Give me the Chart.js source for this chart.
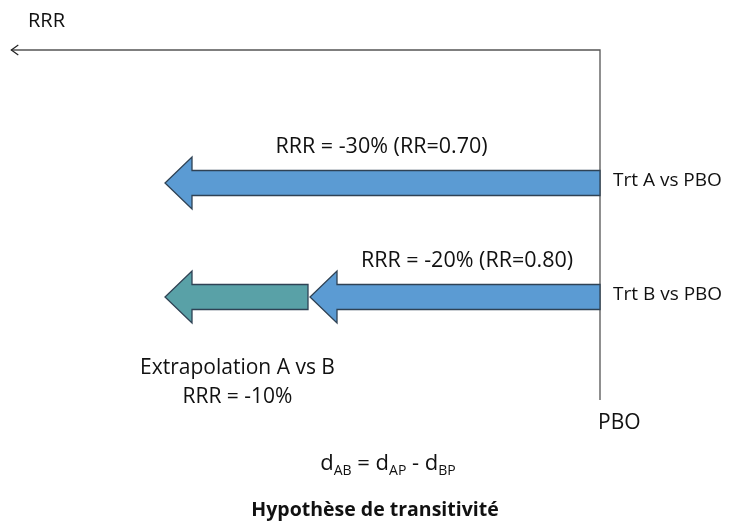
<!DOCTYPE html>
<html><head><meta charset="utf-8">
<script src="https://cdn.jsdelivr.net/npm/chart.js@4/dist/chart.umd.min.js"></script>
<style>html,body{margin:0;padding:0;background:#fff}#wrap{width:736px;height:522px;position:relative}</style>
</head><body><div id="wrap"><canvas id="c" width="736" height="522"></canvas></div>
<script>
// ---- data ----
const categories = ['Trt A vs PBO', 'Trt B vs PBO'];
const rrrVsPbo = [[0, -30], [0, -20]];           // RRR (%) vs placebo: [start, end]
const rrrLabels = ['RRR = -30% (RR=0.70)', 'RRR = -20% (RR=0.80)'];
const extrapolation = [null, [-20, -30]];        // indirect comparison A vs B
const extrapLabels = ['Extrapolation A vs B', 'RRR = -10%'];
const axisLabels = ['RRR', 'PBO'];
const titleText = 'Hypothèse de transitivité';

const FONT = '"Open Sans", Lato, sans-serif';
const BLUE = '#5b9bd3', TEAL = '#59a1a7', EDGE = '#2f4254';

function arrow(ctx, tail, tip, yc, sh, hh, hl, fill) {
  ctx.beginPath();
  ctx.moveTo(tail, yc - sh / 2);
  ctx.lineTo(tip + hl, yc - sh / 2);
  ctx.lineTo(tip + hl, yc - hh / 2);
  ctx.lineTo(tip, yc);
  ctx.lineTo(tip + hl, yc + hh / 2);
  ctx.lineTo(tip + hl, yc + sh / 2);
  ctx.lineTo(tail, yc + sh / 2);
  ctx.closePath();
  ctx.fillStyle = fill; ctx.fill();
  ctx.lineWidth = 1.3; ctx.strokeStyle = EDGE; ctx.stroke();
}

const diagram = {
  id: 'diagram',
  afterDatasetsDraw(chart) {
    const ctx = chart.ctx, xs = chart.scales.x;
    const x0 = xs.getPixelForValue(0);
    const axisY = 50, axisEnd = xs.getPixelForValue(-40.6);
    ctx.save();
    // axes
    ctx.strokeStyle = '#555'; ctx.lineWidth = 1.3;
    ctx.beginPath();
    ctx.moveTo(x0, 400); ctx.lineTo(x0, axisY); ctx.lineTo(axisEnd, axisY);
    ctx.stroke();
    ctx.strokeStyle = '#222'; ctx.lineWidth = 1.2;
    ctx.beginPath();
    ctx.moveTo(axisEnd + 7, axisY - 5); ctx.lineTo(axisEnd, axisY); ctx.lineTo(axisEnd + 7, axisY + 5);
    ctx.stroke();

    const sh = 25, hh = 52, hl = 27;
    const m1 = chart.getDatasetMeta(0), m2 = chart.getDatasetMeta(1);
    ctx.textBaseline = 'middle';
    rrrVsPbo.forEach((d, i) => {
      const el = m1.data[i];
      const tail = xs.getPixelForValue(d[0]), tip = xs.getPixelForValue(d[1]);
      arrow(ctx, tail, tip, el.y, sh, hh, hl, BLUE);
      ctx.fillStyle = '#111';
      ctx.textAlign = 'center';
      ctx.font = '21.5px ' + FONT;
      ctx.fillText(rrrLabels[i], (tail + tip) / 2 + (i === 1 ? 12 : -1), el.y - 36);
      ctx.textAlign = 'left';
      ctx.font = '19px ' + FONT;
      ctx.fillText(categories[i], x0 + 13, el.y - 2);
    });
    extrapolation.forEach((d, i) => {
      if (!d) return;
      const el = m2.data[i];
      const tail = xs.getPixelForValue(d[0]) - 2, tip = xs.getPixelForValue(d[1]);
      arrow(ctx, tail, tip, el.y, sh, hh, hl, TEAL);
      ctx.fillStyle = '#111'; ctx.textAlign = 'center';
      ctx.font = '21px ' + FONT;
      const cx = (tail + tip) / 2 + 1;
      ctx.fillText(extrapLabels[0], cx, el.y + 71);
      ctx.fillText(extrapLabels[1], cx, el.y + 100);
    });
    // axis labels
    ctx.textAlign = 'left';
    ctx.font = '20px ' + FONT;
    ctx.fillText(axisLabels[0], 28, 21);
    ctx.font = '21px ' + FONT;
    ctx.fillText(axisLabels[1], x0 - 2, 423);
    // formula d_AB = d_AP - d_BP
    const parts = [['d', 0], ['AB', 1], [' = d', 0], ['AP', 1], [' - d', 0], ['BP', 1]];
    const big = '22px ' + FONT, small = '14px ' + FONT;
    let w = 0;
    parts.forEach(p => { ctx.font = p[1] ? small : big; w += ctx.measureText(p[0]).width; });
    let x = 388 - w / 2;
    parts.forEach(p => {
      ctx.font = p[1] ? small : big;
      ctx.fillText(p[0], x, p[1] ? 471 : 464);
      x += ctx.measureText(p[0]).width;
    });
    // title
    ctx.font = 'bold 19.5px ' + FONT; ctx.textAlign = 'center';
    ctx.fillText(titleText, 375, 510);
    ctx.restore();
  }
};

new Chart(document.getElementById('c'), {
  type: 'bar',
  data: {
    labels: categories,
    datasets: [
      { label: 'vs PBO', data: rrrVsPbo, backgroundColor: 'rgba(0,0,0,0)', borderWidth: 0, barThickness: 25 },
      { label: 'A vs B', data: extrapolation, backgroundColor: 'rgba(0,0,0,0)', borderWidth: 0, barThickness: 25 }
    ]
  },
  options: {
    indexAxis: 'y',
    responsive: false,
    animation: false,
    datasets: { bar: { grouped: false } },
    layout: { padding: { left: 165, right: 136, top: 126, bottom: 168 } },
    scales: {
      x: { type: 'linear', min: -30, max: 0, display: false },
      y: { display: false }
    },
    plugins: { legend: { display: false }, tooltip: { enabled: false } }
  },
  plugins: [diagram]
});
</script>
</body></html>
